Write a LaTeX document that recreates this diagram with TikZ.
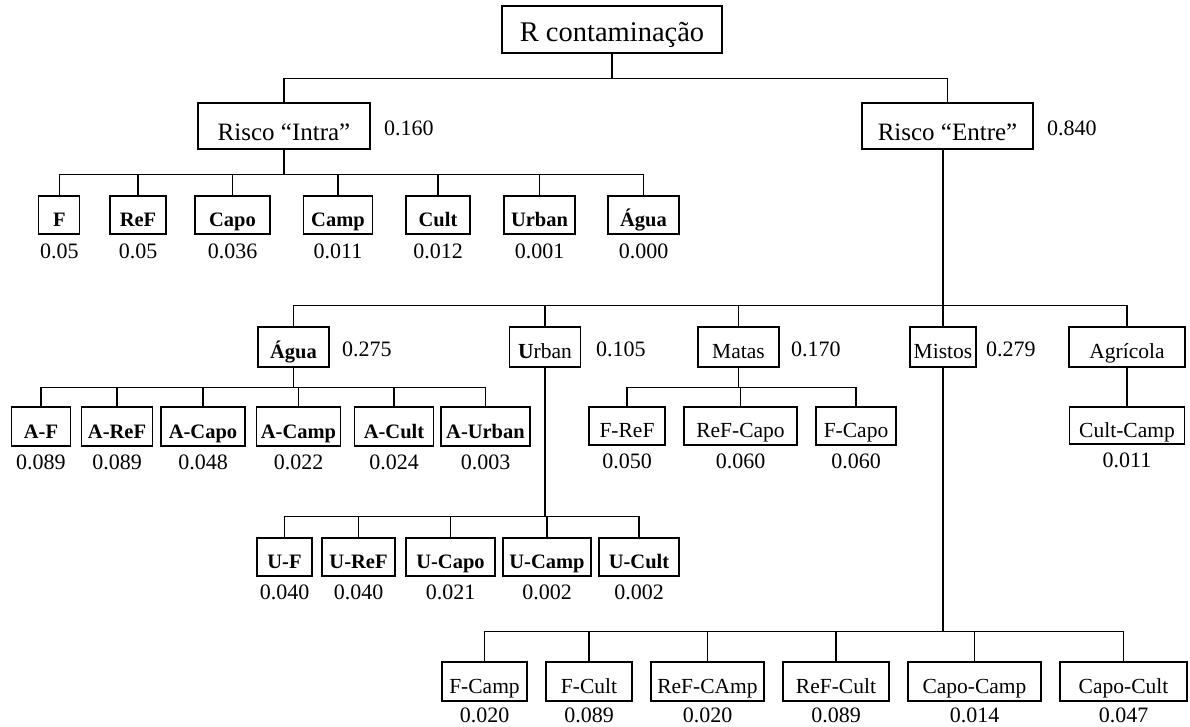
\documentclass[tikz,border=0pt]{standalone}
\usepackage{fontspec}
\setmainfont{Liberation Serif}
\usetikzlibrary{calc}
\begin{document}
\begin{tikzpicture}[x=1pt,y=-1pt,
  box/.style={draw, line width=1.2pt, inner sep=0pt, text height=24pt, text depth=1pt,
    font=\fontsize{21.5}{24}\selectfont},
  bbox/.style={box, font=\fontsize{20.5}{24}\selectfont\bfseries},
  bigbox/.style={box, text height=29pt, text depth=1pt, font=\fontsize{25}{28}\selectfont},
  rootbox/.style={box, text height=24pt, text depth=1pt, font=\fontsize{28.5}{31}\selectfont},
  wh/.style 2 args={minimum width=#1pt, minimum height=#2pt},
  val/.style={inner sep=0pt, anchor=base, font=\fontsize{22}{24}\selectfont},
  sval/.style={inner sep=0pt, anchor=base west, font=\fontsize{22}{24}\selectfont},
  link/.style={line width=1.1pt},
  stem/.style={line width=1.7pt}]
\useasboundingbox (0,0) rectangle (1190,726);

% ---- top levels
\node[rootbox, wh={220}{47}] (root) at (612,29.5) {R contaminação};
\node[bigbox, wh={172}{46}] (intra) at (284,126) {Risco “Intra”};
\node[bigbox, wh={171}{46}] (entre) at (947.5,126) {Risco “Entre”};
\node[sval] (vintra) at (384,135) {0.160};
\node[sval] (ventre) at (1047,135) {0.840};

% ---- children of the "Intra" risk
\node[bbox, wh={41}{38}] (f) at (59.3,215) {F};
\node[bbox, wh={56}{38}] (ref) at (138,215) {ReF};
\node[bbox, wh={75}{38}] (capo) at (232.5,215) {Capo};
\node[bbox, wh={69.5}{38}] (camp) at (338,215) {Camp};
\node[bbox, wh={64}{38}] (cult) at (438,215) {Cult};
\node[bbox, wh={71}{38}] (urban) at (539.5,215) {Urban};
\node[bbox, wh={71}{38}] (agua) at (643.5,215) {Água};
\node[val] (vf) at ([yshift=-24pt]f.south) {0.05};
\node[val] (vref) at ([yshift=-24pt]ref.south) {0.05};
\node[val] (vcapo) at ([yshift=-24pt]capo.south) {0.036};
\node[val] (vcamp) at ([yshift=-24pt]camp.south) {0.011};
\node[val] (vcult) at ([yshift=-24pt]cult.south) {0.012};
\node[val] (vurban) at ([yshift=-24pt]urban.south) {0.001};
\node[val] (vagua) at ([yshift=-24pt]agua.south) {0.000};

% ---- groups of the "Entre" risk
\node[bbox, wh={71}{40}] (aguaE) at (293.5,347) {Água};
\node[box, wh={70.5}{40}] (urbanE) at (545,347) {\textbf{U}rban};
\node[box, wh={81}{40}] (matas) at (738.5,347) {Matas};
\node[box, wh={66}{40}] (mistos) at (943,347) {Mistos};
\node[box, wh={116}{40}] (agricola) at (1127,347) {Agrícola};
\node[sval] (vaguaE) at (342,356.5) {0.275};
\node[sval] (vurbanE) at (596,356.5) {0.105};
\node[sval] (vmatas) at (791,356.5) {0.170};
\node[sval] (vmistos) at (986,356.5) {0.279};

% ---- water pairs
\node[bbox, wh={58.5}{39}] (af) at (41,426.5) {A-F};
\node[bbox, wh={70.5}{39}] (aref) at (117,426.5) {A-ReF};
\node[bbox, wh={84}{39}] (acapo) at (203,426.5) {A-Capo};
\node[bbox, wh={84.6}{39}] (acamp) at (298.5,426.5) {A-Camp};
\node[bbox, wh={79.6}{39}] (acult) at (394,426.5) {A-Cult};
\node[bbox, wh={89}{39}] (aurban) at (485.5,426.5) {A-Urban};
\node[val] (vaf) at ([yshift=-23pt]af.south) {0.089};
\node[val] (varef) at ([yshift=-23pt]aref.south) {0.089};
\node[val] (vacapo) at ([yshift=-23pt]acapo.south) {0.048};
\node[val] (vacamp) at ([yshift=-23pt]acamp.south) {0.022};
\node[val] (vacult) at ([yshift=-23pt]acult.south) {0.024};
\node[val] (vaurban) at ([yshift=-23pt]aurban.south) {0.003};

% ---- woodland pairs
\node[box, wh={76}{38}] (fref) at (627,426) {F-ReF};
\node[box, wh={113}{38}] (refcapo) at (740.5,426) {ReF-Capo};
\node[box, wh={80}{38}] (fcapo) at (856,426) {F-Capo};
\node[val] (vfref) at ([yshift=-23pt]fref.south) {0.050};
\node[val] (vrefcapo) at ([yshift=-23pt]refcapo.south) {0.060};
\node[val] (vfcapo) at ([yshift=-23pt]fcapo.south) {0.060};

% ---- agricultural pair
\node[box, wh={115}{37}] (cultcamp) at (1127,425.5) {Cult-Camp};
\node[val] (vcultcamp) at ([yshift=-23pt]cultcamp.south) {0.011};

% ---- urban pairs
\node[bbox, wh={55}{38}] (uf) at (284.5,557) {U-F};
\node[bbox, wh={73}{38}] (uref) at (358.5,557) {U-ReF};
\node[bbox, wh={89}{38}] (ucapo) at (450.5,557) {U-Capo};
\node[bbox, wh={88}{38}] (ucamp) at (547,557) {U-Camp};
\node[bbox, wh={80}{38}] (ucult) at (639,557) {U-Cult};
\node[val] (vuf) at ([yshift=-23pt]uf.south) {0.040};
\node[val] (vuref) at ([yshift=-23pt]uref.south) {0.040};
\node[val] (vucapo) at ([yshift=-23pt]ucapo.south) {0.021};
\node[val] (vucamp) at ([yshift=-23pt]ucamp.south) {0.002};
\node[val] (vucult) at ([yshift=-23pt]ucult.south) {0.002};

% ---- mixed pairs
\node[box, wh={85}{39}] (fcampM) at (484.5,681.5) {F-Camp};
\node[box, wh={86}{39}] (fcultM) at (589,681.5) {F-Cult};
\node[box, wh={113}{39}] (refcampM) at (707.5,681.5) {ReF-CAmp};
\node[box, wh={106}{39}] (refcultM) at (836,681.5) {ReF-Cult};
\node[box, wh={133}{39}] (capocampM) at (974.5,681.5) {Capo-Camp};
\node[box, wh={127}{39}] (capocultM) at (1123.5,681.5) {Capo-Cult};
\node[val] (vfcampM) at ([yshift=-21pt]fcampM.south) {0.020};
\node[val] (vfcultM) at ([yshift=-21pt]fcultM.south) {0.089};
\node[val] (vrefcampM) at ([yshift=-21pt]refcampM.south) {0.020};
\node[val] (vrefcultM) at ([yshift=-21pt]refcultM.south) {0.089};
\node[val] (vcapocampM) at ([yshift=-21pt]capocampM.south) {0.014};
\node[val] (vcapocultM) at ([yshift=-21pt]capocultM.south) {0.047};

% ---- connectors
\draw[stem] (root.south) -- ++(0,25) coordinate (rootbus);
\foreach \c in {intra,entre} \draw[link] (rootbus) -| (\c.north);

\draw[stem] (intra.south) -- ++(0,25) coordinate (intrabus);
\foreach \c in {f,ref,capo,camp,cult,urban,agua} \draw[link] (intrabus) -| (\c.north);

\draw[stem] ([xshift=-4.5pt]entre.south) -- (mistos.north);
\coordinate (entrebus) at ([xshift=-4.5pt,yshift=-156pt]entre.south);
\foreach \c in {aguaE,urbanE,matas,agricola} \draw[link] (entrebus) -| (\c.north);

\draw[stem] (aguaE.south) -- ++(0,20) coordinate (aguabus);
\foreach \c in {af,aref,acapo,acamp,acult,aurban} \draw[link] (aguabus) -| (\c.north);

\draw[stem] (urbanE.south) -- ++(0,149) coordinate (urbanbus);
\foreach \c in {uf,uref,ucapo,ucamp,ucult} \draw[link] (urbanbus) -| (\c.north);

\draw[stem] (matas.south) -- ++(0,20) coordinate (matasbus);
\foreach \c in {fref,refcapo,fcapo} \draw[link] (matasbus) -| (\c.north);

\draw[stem] (agricola.south) -- (cultcamp.north);

\draw[stem] (mistos.south) -- ++(0,264) coordinate (mistosbus);
\foreach \c in {fcampM,fcultM,refcampM,refcultM,capocampM,capocultM} \draw[link] (mistosbus) -| (\c.north);
\end{tikzpicture}
\end{document}
